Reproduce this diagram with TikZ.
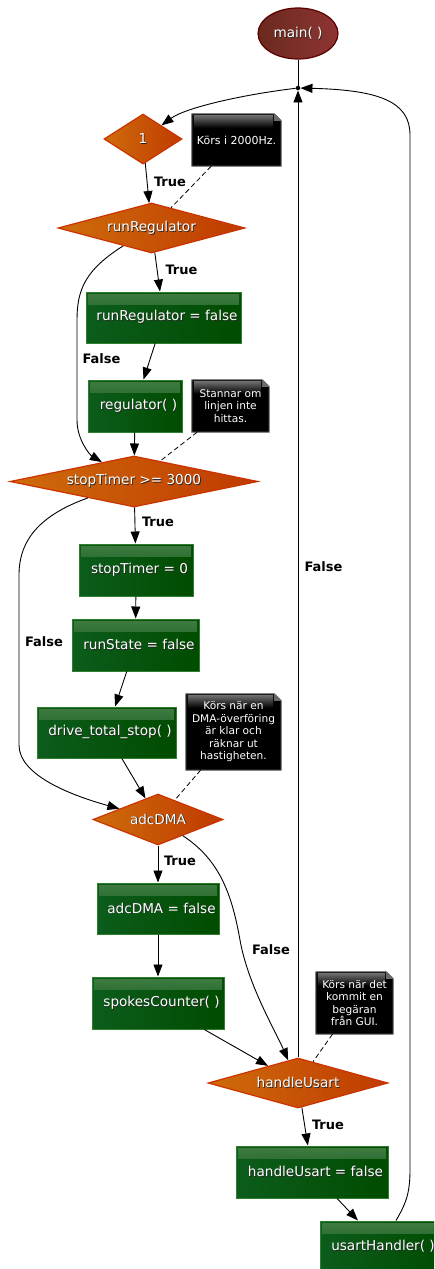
\documentclass[tikz,border=0pt]{standalone}
\usepackage{fontspec}
\setmainfont{DejaVu Sans}
\usetikzlibrary{shapes.geometric,arrows.meta,backgrounds}

\definecolor{boxA}{HTML}{0C5C1C}
\definecolor{boxB}{HTML}{004C00}
\definecolor{boxLine}{HTML}{2F7F2F}
\definecolor{boxGloss}{HTML}{417C41}
\definecolor{decA}{HTML}{CE6C0C}
\definecolor{decB}{HTML}{C03A00}
\definecolor{decLine}{HTML}{CC3300}
\definecolor{startA}{HTML}{6A2A1E}
\definecolor{startB}{HTML}{8E3432}
\definecolor{startLine}{HTML}{5C0000}
\definecolor{noteLine}{HTML}{555555}
\definecolor{noteGloss}{HTML}{6A6A6A}

% white label text with a soft dark drop shadow
\newcommand\shadowed[1]{\leavevmode\rlap{\kern0.8pt\raisebox{-0.8pt}{\textcolor{black!85}{#1}}}\textcolor{white}{#1}}
% statement text sits a little right of the box centre
\newcommand\stmt[1]{\hspace*{7pt}\shadowed{#1}}

\tikzset{
  base/.style={font=\fontsize{13.6pt}{16pt}\selectfont, inner sep=0pt},
  box/.style={base, rectangle, draw=boxLine, line width=1pt,
    left color=boxA, right color=boxB,
    path picture={\shade[top color=boxGloss, bottom color=boxA, middle color=boxA!70!boxGloss]
      ([shift={(2pt,-2pt)}]path picture bounding box.north west) rectangle
      ([shift={(-2pt,-12pt)}]path picture bounding box.north east);}},
  decision/.style={base, diamond, draw=decLine, line width=1.2pt,
    left color=decA, right color=decB},
  start/.style={base, ellipse, draw=startLine, line width=1.2pt,
    left color=startA, right color=startB},
  junction/.style={circle, fill=black, inner sep=0pt, minimum size=4.5pt},
  note/.style={font=\fontsize{10.6pt}{12.5pt}\selectfont, text=white,
    align=center, inner sep=0pt},
  notebody/.style={fill=black, draw=noteLine, line width=1pt},
  lbl/.style={font=\bfseries\fontsize{13pt}{15pt}\selectfont, inner sep=0pt},
  edge/.style={draw=black, line width=0.9pt, -{Triangle[length=12pt,width=9pt]}},
  notelink/.style={draw=black, line width=0.8pt, dash pattern=on 5pt off 3pt},
}

\begin{document}
\begin{tikzpicture}[x=1pt, y=-1pt]
\useasboundingbox (0,0) rectangle (434,1269);
\clip (0,0) rectangle (434,1269);

% start and loop junction
\node[start, minimum width=80pt, minimum height=51pt] (main) at (298,33.5) {\shadowed{main( )}};
\node[junction] (j) at (298,88) {};

% decisions
\node[decision, aspect=1.56, minimum width=78pt, minimum height=50pt] (d1) at (143,139) {\shadowed{1}};
\node[decision, aspect=3.74, minimum width=187pt, minimum height=50pt] (rr) at (151.5,228) {\shadowed{runRegulator}};
\node[decision, aspect=4.86, minimum width=248pt, minimum height=51pt] (st) at (134,481.5) {\shadowed{stopTimer >= 3000}};
\node[decision, aspect=2.55, minimum width=130pt, minimum height=51pt] (adc) at (158,819.5) {\shadowed{adcDMA}};
\node[decision, aspect=3.6, minimum width=180pt, minimum height=50pt] (hu) at (298,1083) {\shadowed{handleUsart}};

% statements
\node[box, minimum width=155pt, minimum height=51pt] (rrf) at (163.5,317.5) {\stmt{runRegulator = false}};
\node[box, minimum width=94pt, minimum height=52pt] (reg) at (135,406) {\stmt{regulator( )}};
\node[box, minimum width=114pt, minimum height=52pt] (st0) at (136,570) {\stmt{stopTimer = 0}};
\node[box, minimum width=127pt, minimum height=52pt] (rs) at (135.5,645) {\stmt{runState = false}};
\node[box, minimum width=139pt, minimum height=51pt] (drv) at (106.5,732.5) {\stmt{drive\_total\_stop( )}};
\node[box, minimum width=122pt, minimum height=51pt] (af) at (158,908.5) {\stmt{adcDMA = false}};
\node[box, minimum width=132pt, minimum height=52pt] (spk) at (158,1003) {\stmt{spokesCounter( )}};
\node[box, minimum width=152pt, minimum height=52pt] (huf) at (312,1172) {\stmt{handleUsart = false}};
\node[box, minimum width=126pt, minimum height=52pt] (uh) at (383,1247) {\shadowed{usartHandler( )}};

% comments
\node[note, font=\fontsize{11pt}{13pt}\selectfont, minimum width=89pt, minimum height=52pt] (n1) at (236.5,140) {Körs i 2000Hz.};
\node[note, minimum width=77pt, minimum height=52pt] (n2) at (230.5,406) {Stannar om\\linjen inte\\hittas.};
\node[note, minimum width=95pt, minimum height=76pt] (n3) at (233.5,732) {Körs när en\\DMA-överföring\\är klar och\\räknar ut\\hastigheten.};
\node[note, minimum width=77pt, minimum height=62pt] (n4) at (354.5,1003) {Körs när det\\kommit en\\begäran\\från GUI.};

% note sheets with folded corner, behind the note texts
\begin{scope}[on background layer]
\foreach \n in {n1,n2,n3,n4} {
  \path[notebody] (\n.north west) -- ([xshift=-7pt]\n.north east)
    -- ([yshift=-7pt]\n.north east) -- (\n.south east) -- (\n.south west) -- cycle;
  \shade[top color=noteGloss, bottom color=black]
    ([shift={(2pt,-2pt)}]\n.north west) rectangle ([shift={(-8pt,-14pt)}]\n.north east);
  \fill[noteGloss] ([xshift=-7pt]\n.north east) -- ([xshift=-7pt,yshift=-7pt]\n.north east)
    -- ([yshift=-7pt]\n.north east) -- cycle;
}
\end{scope}

% control flow
\draw[line width=0.9pt] (main) -- (j);
\draw[edge] (j) .. controls (240,95) and (185,108) .. (d1);
\draw[edge] (d1) -- (rr);
\draw[edge] (rr) -- (rrf);
\draw[edge] (rr) .. controls (85,270) and (77,290) .. (77,320) -- (77,420)
  .. controls (77,440) and (90,455) .. (st);
\draw[edge] (rrf) -- (reg);
\draw[edge] (reg) -- (st);
\draw[edge] (st) -- (st0);
\draw[edge] (st) .. controls (40,515) and (19,540) .. (19,575) -- (19,745)
  .. controls (19,775) and (70,795) .. (adc);
\draw[edge] (st0) -- (rs);
\draw[edge] (rs) -- (drv);
\draw[edge] (drv) -- (adc);
\draw[edge] (adc) -- (af);
\draw[edge] (adc) .. controls (220,860) and (232,895) .. (240,940)
  .. controls (248,985) and (275,1030) .. (hu);
\draw[edge] (af) -- (spk);
\draw[edge] (spk) -- (hu);
\draw[edge] (hu) -- (j);
\draw[edge] (hu) -- (huf);
\draw[edge] (huf) -- (uh);
\draw[edge] ([xshift=13pt]uh.north) .. controls (405,1205) and (410,1195) .. (410,1170)
  -- (410,135) .. controls (410,102) and (380,90) .. (j);

% comment links
\draw[notelink] (n1) -- (rr);
\draw[notelink] (n2) -- (st);
\draw[notelink] (n3) -- (adc);
\draw[notelink] (n4) -- (hu);

% branch labels
\node[lbl] (t1) at (170,181.5) {True};
\node[lbl] (t2) at (181.5,270) {True};
\node[lbl] (f1) at (101.5,359) {False};
\node[lbl] (t3) at (158,522) {True};
\node[lbl] (f2) at (44,642) {False};
\node[lbl] (f3) at (323.5,567) {False};
\node[lbl] (t4) at (180,861) {True};
\node[lbl] (f4) at (271,950) {False};
\node[lbl] (t5) at (328,1125) {True};
\end{tikzpicture}
\end{document}
